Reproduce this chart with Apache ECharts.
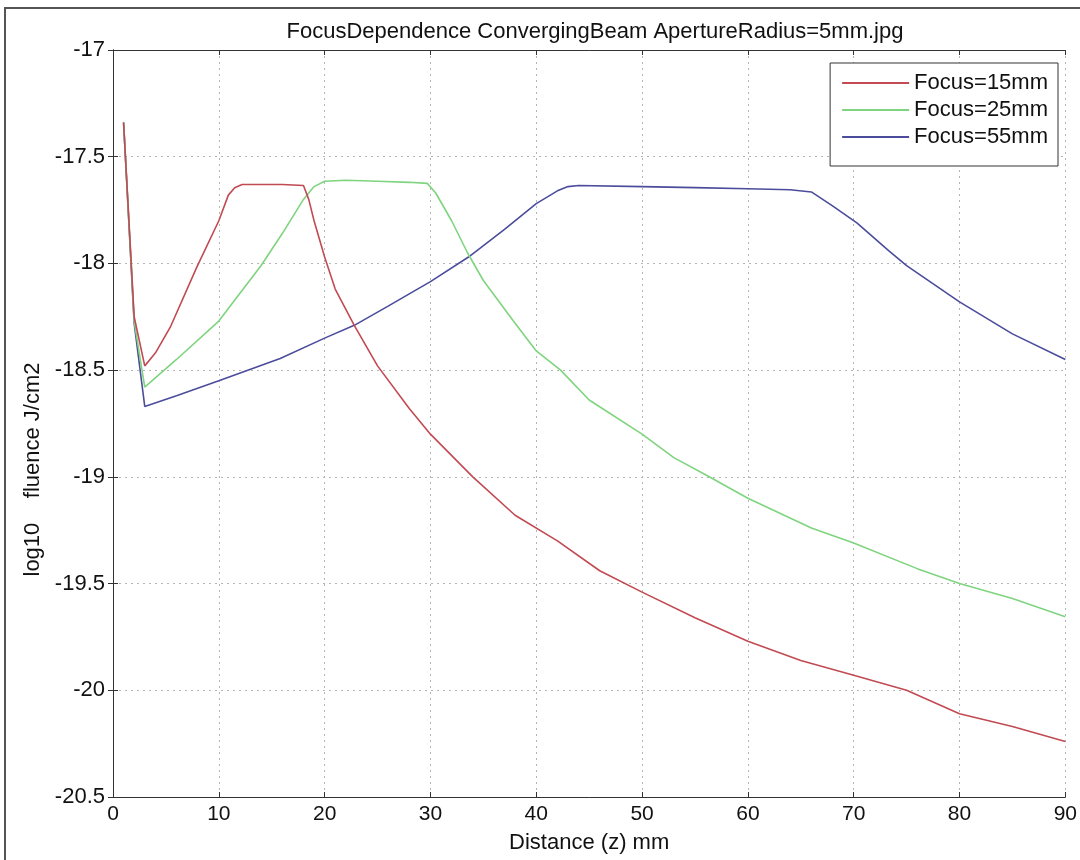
<!DOCTYPE html>
<html>
<head>
<meta charset="utf-8">
<title>FocusDependence ConvergingBeam</title>
<script src="https://cdn.jsdelivr.net/npm/echarts@6/dist/echarts.min.js"></script>
<style>
  html, body { margin: 0; padding: 0; background: #fff; }
  #chart { width: 1080px; height: 860px; }
</style>
</head>
<body>
<div id="chart"></div>
<script>
  // Focus=15mm
  const focus15X = [1, 2, 3, 4, 5.4, 7.9, 10, 10.9, 11.5, 12.2, 14, 16, 18, 18.5, 19, 20, 21, 22.8, 25, 28, 30, 34, 38, 42, 46, 50, 55, 60, 65, 70, 75, 80, 85, 90]
  const focus15Y = [-17.34, -18.25, -18.48, -18.42, -18.30, -18.02, -17.80, -17.68, -17.645, -17.63, -17.63, -17.63, -17.635, -17.7, -17.8, -17.97, -18.12, -18.29, -18.48, -18.68, -18.80, -19.0, -19.18, -19.30, -19.44, -19.54, -19.66, -19.77, -19.86, -19.93, -20.00, -20.11, -20.17, -20.24]
  // Focus=25mm
  const focus25X = [1, 2, 3, 6, 10, 14, 16, 18, 19, 20, 22, 25, 28, 29.7, 30.5, 32, 33.5, 35, 38, 40, 42.3, 45, 50, 53, 56, 60, 66, 70, 76, 80, 85, 90]
  const focus25Y = [-17.34, -18.27, -18.58, -18.45, -18.27, -18.01, -17.86, -17.70, -17.64, -17.615, -17.61, -17.615, -17.62, -17.625, -17.67, -17.80, -17.95, -18.08, -18.28, -18.41, -18.50, -18.64, -18.80, -18.91, -18.99, -19.10, -19.24, -19.31, -19.43, -19.50, -19.57, -19.655]
  // Focus=55mm
  const focus55X = [1, 2, 3, 6, 10, 15.8, 20, 22.8, 26, 30, 33.6, 37, 40, 42, 43, 44, 50, 55, 60, 64, 66, 68, 70.3, 73.3, 75, 80, 85, 90]
  const focus55Y = [-17.34, -18.28, -18.67, -18.62, -18.55, -18.445, -18.35, -18.29, -18.20, -18.085, -17.97, -17.84, -17.72, -17.66, -17.64, -17.635, -17.64, -17.645, -17.65, -17.655, -17.665, -17.73, -17.81, -17.94, -18.01, -18.18, -18.33, -18.45]

  const seriesNames = ['Focus=15mm', 'Focus=25mm', 'Focus=55mm']
  const seriesColors = ['#c24a52', '#7fd47f', '#4c4c9c']

  const zip = (xs, ys) => xs.map((x, i) => [x, ys[i]])
  const seriesData = [zip(focus15X, focus15Y), zip(focus25X, focus25Y), zip(focus55X, focus55Y)]

  const font = '"Liberation Sans", Arial, sans-serif'
  // 上、右两条轴只画框和刻度
  const boxAxis = {
    axisLine: { show: true, lineStyle: { color: '#333', width: 1 } },
    axisTick: { show: true, inside: true, length: 5, lineStyle: { color: '#333' } },
    axisLabel: { show: false },
    splitLine: { show: false }
  }

  const myChart = echarts.init(document.getElementById('chart'), null, { renderer: 'canvas' })
  const option = {
    backgroundColor: '#fff',
    animation: false,
    textStyle: { fontFamily: font },
    title: {
      text: 'FocusDependence ConvergingBeam ApertureRadius=5mm.jpg',
      left: 590,
      textAlign: 'center',
      top: 16,
      textStyle: { fontSize: 22, fontWeight: 'normal', color: '#111', fontFamily: font }
    },
    graphic: [
      {
        type: 'rect',
        shape: { x: 5, y: 8, width: 1090, height: 870 },
        style: { fill: 'none', stroke: '#555', lineWidth: 2 },
        silent: true
      }
    ],
    grid: { left: 113, right: 13, top: 50, bottom: 63 },
    legend: {
      data: seriesNames,
      orient: 'vertical',
      right: 22,
      top: 63,
      icon: 'rect',
      itemWidth: 67,
      itemHeight: 2,
      itemGap: 5,
      padding: [9, 10, 18, 12],
      backgroundColor: '#fff',
      borderColor: '#333',
      borderWidth: 1,
      textStyle: { fontSize: 22, color: '#111', fontFamily: font }
    },
    xAxis: [
      {
        type: 'value',
        min: 0,
        max: 90,
        interval: 10,
        name: 'Distance (z) mm',
        nameLocation: 'middle',
        nameGap: 35,
        nameTextStyle: { fontSize: 22, color: '#111' },
        axisLine: { show: true, lineStyle: { color: '#333', width: 1 } },
        axisTick: { show: true, inside: true, length: 5, lineStyle: { color: '#333' } },
        axisLabel: { fontSize: 21, color: '#111', margin: 7 },
        splitLine: { show: true, lineStyle: { color: '#b4b4b4', type: [2, 4], width: 1 } }
      },
      Object.assign({ type: 'value', position: 'top', min: 0, max: 90, interval: 10 }, boxAxis)
    ],
    yAxis: [
      {
        type: 'value',
        min: -20.5,
        max: -17,
        interval: 0.5,
        name: 'log10    fluence J/cm2',
        nameLocation: 'middle',
        nameGap: 55,
        nameTextStyle: { fontSize: 22, color: '#111', padding: [0, 92, 0, 0] },
        axisLine: { show: true, lineStyle: { color: '#333', width: 1 } },
        axisTick: { show: true, inside: true, length: 5, lineStyle: { color: '#333' } },
        axisLabel: { fontSize: 22, color: '#111', margin: 8 },
        splitLine: { show: true, lineStyle: { color: '#b4b4b4', type: [2, 4], width: 1 } }
      },
      Object.assign({ type: 'value', position: 'right', min: -20.5, max: -17, interval: 0.5 }, boxAxis)
    ],
    series: seriesNames.map((name, i) => ({
      name: name,
      type: 'line',
      xAxisIndex: 0,
      yAxisIndex: 0,
      data: seriesData[i],
      symbol: 'none',
      smooth: false,
      lineStyle: { color: seriesColors[i], width: 1.6 },
      itemStyle: { color: seriesColors[i] },
      z: 3 - i
    }))
  }
  myChart.setOption(option)
</script>
</body>
</html>
